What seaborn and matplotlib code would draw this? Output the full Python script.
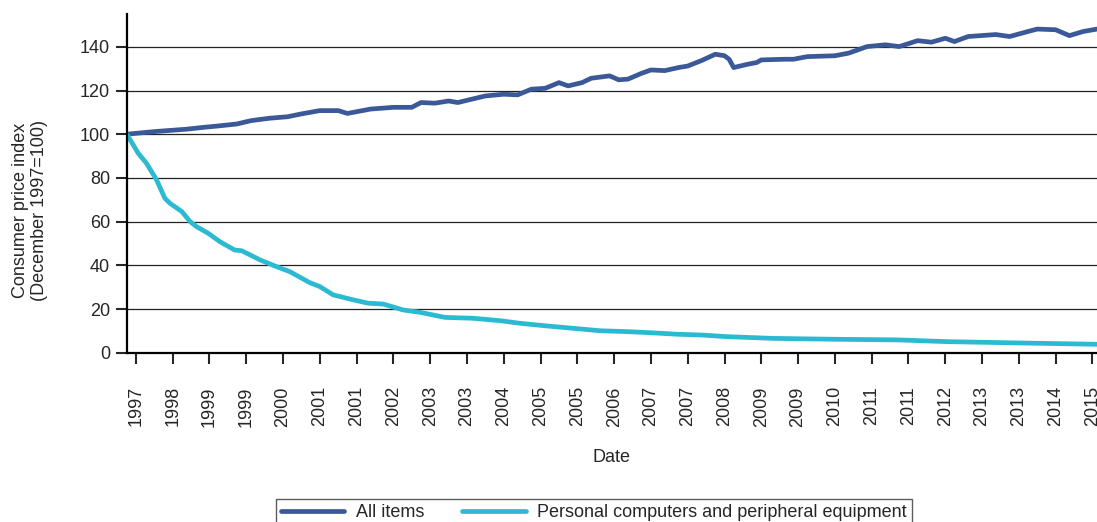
import pandas as pd
import matplotlib.pyplot as plt
import seaborn as sns

# --- DATA (months since start of series, index values) ---
all_months = [0, 6, 13, 17, 20, 24, 27, 31, 35, 38, 42, 46, 48, 53, 58, 62, 64, 67, 70, 72,
              76, 78, 82, 85, 88, 91, 94, 96, 99, 101, 105, 107, 109, 112, 114, 117, 120, 122,
              125, 128, 130, 131, 132, 135, 137, 138, 143, 145, 148, 154, 157, 161, 165, 168,
              172, 175, 178, 180, 183, 185, 189, 192, 196, 198, 202, 205, 208, 211]
all_items = [100, 101.2, 102.3, 103.2, 103.8, 104.7, 106.2, 107.3, 108, 109.3, 110.8, 110.8,
             109.5, 111.5, 112.3, 112.3, 114.5, 114.2, 115.2, 114.5, 116.5, 117.5, 118.3, 118,
             120.6, 121, 123.6, 122.1, 123.6, 125.6, 126.7, 124.9, 125.2, 127.9, 129.4, 129.1,
             130.5, 131.2, 133.7, 136.6, 135.9, 134.3, 130.5, 132, 132.8, 134, 134.3, 134.3,
             135.5, 135.9, 137.1, 140.1, 140.9, 140.1, 142.8, 142.1, 143.9, 142.4, 144.7, 145,
             145.6, 144.7, 147, 148.1, 147.8, 145.1, 147, 148.1]

pc_months = [0, 1, 2.5, 4.3, 6.5, 8.3, 9.4, 12, 13.8, 15.2, 17.7, 20.3, 23.5, 25, 29, 32.6,
             35.5, 39.8, 42, 44.9, 49.3, 52.5, 55.8, 60.1, 63.8, 69.2, 75.3, 81.2, 85.5, 91.3,
             97.1, 102.9, 108.7, 113.8, 119.6, 125.3, 130.4, 140.5, 153.5, 167.7, 178.5, 199.6,
             211]
pc_items = [100, 96.6, 91.3, 86.7, 79.1, 70.7, 68.4, 64.6, 60, 57.7, 54.7, 50.8, 47, 46.7,
            42.5, 39.4, 37.1, 32.1, 30.3, 26.5, 24.2, 22.7, 22.3, 19.6, 18.5, 16.2, 15.8, 14.7,
            13.5, 12.3, 11.2, 10.1, 9.7, 9.2, 8.5, 8.1, 7.4, 6.6, 6.2, 5.9, 5.1, 4.3, 3.9]

series_names = ["All items", "Personal computers and peripheral equipment"]
series_colors = ["#3B5998", "#2BBAD2"]

tick_months = list(range(2, 211, 8))
tick_labels = ["1997", "1998", "1999", "1999", "2000", "2001", "2001", "2002", "2003", "2003",
               "2004", "2005", "2005", "2006", "2007", "2007", "2008", "2009", "2009", "2010",
               "2011", "2011", "2012", "2013", "2013", "2014", "2015"]

df = pd.concat([
    pd.DataFrame({"month": all_months, "value": all_items, "series": series_names[0]}),
    pd.DataFrame({"month": pc_months, "value": pc_items, "series": series_names[1]}),
])

sns.set_style("white")
plt.rcParams["font.family"] = ["Liberation Sans", "DejaVu Sans"]

fig = plt.figure(figsize=(10.97, 5.22), dpi=100)
ax = fig.add_axes([126.7 / 1097, 1 - 352.8 / 522, 1 - 126.7 / 1097, (352.8 - 14) / 522])

sns.lineplot(data=df, x="month", y="value", hue="series", palette=series_colors,
             hue_order=series_names, linewidth=3.4, ax=ax, legend=True)

ax.set_xlim(0, 211)
ax.set_ylim(0, 155)
ax.set_yticks(range(0, 141, 20))
ax.set_xticks(tick_months)
ax.set_xticklabels(tick_labels, rotation=90, fontsize=13)
ax.tick_params(axis="y", labelsize=13, direction="out", length=8, width=1.5, left=True, pad=4)
ax.tick_params(axis="x", direction="out", length=8, width=1.5, bottom=True, pad=16)

for y in range(20, 141, 20):
    ax.axhline(y, color="#222222", linewidth=0.9, zorder=0)

for s in ["top", "right"]:
    ax.spines[s].set_visible(False)
for s in ["left", "bottom"]:
    ax.spines[s].set_color("black")
    ax.spines[s].set_linewidth(1.6)

ax.set_xlabel("Date", fontsize=13, labelpad=16)
ax.set_ylabel("Consumer price index\n(December 1997=100)", fontsize=13)
ax.yaxis.set_label_coords(-0.081, 0.42)

handles, labels = ax.get_legend_handles_labels()
leg = ax.legend(handles, labels, loc="upper center", ncol=2, fontsize=13,
                bbox_to_anchor=(594 / 1097, 1 - 490 / 522), bbox_transform=fig.transFigure,
                frameon=True, fancybox=False, edgecolor="#333333", handlelength=3.5,
                handletextpad=0.65, columnspacing=2.1, borderpad=0.3)
leg.get_frame().set_linewidth(1.0)
for line in leg.get_lines():
    line.set_linewidth(3.4)

fig.savefig("out.png", dpi=100)
